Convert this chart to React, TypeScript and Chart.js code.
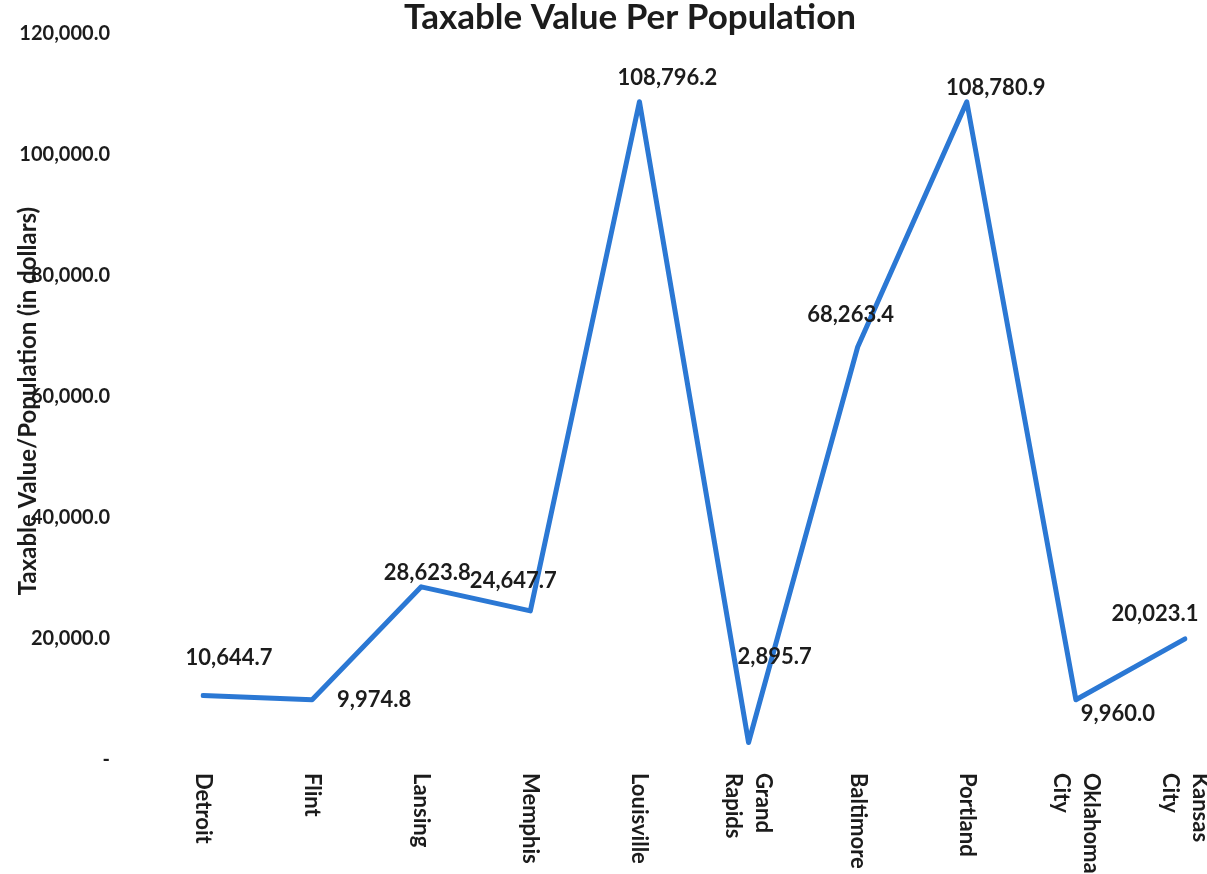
import React, { useEffect, useRef } from "react";
import { Chart, registerables } from "chart.js";

Chart.register(...registerables);

// ---- data ----
const CITIES: string[][] = [
  ["Detroit"],
  ["Flint"],
  ["Lansing"],
  ["Memphis"],
  ["Louisville"],
  ["Grand", "Rapids"],
  ["Baltimore"],
  ["Portland"],
  ["Oklahoma", "City"],
  ["Kansas", "City"],
];
const VALUES: number[] = [
  10644.7, 9974.8, 28623.8, 24647.7, 108796.2, 2895.7, 68263.4, 108780.9, 9960.0, 20023.1,
];
const Y_TICKS: number[] = [0, 20000, 40000, 60000, 80000, 100000, 120000];
const TITLE = "Taxable Value Per Population";
const Y_TITLE = "Taxable Value/Population (in dollars)";

// label placement (pixel offsets of each value label from its point)
const LABEL_OFFSETS: [number, number][] = [
  [26, -38],
  [62, 0],
  [6, -14],
  [-17, -30],
  [28, -24],
  [26, -86],
  [-7, -32],
  [29, -14],
  [42, 14],
  [-30, -25],
];

const FONT = "Lato, 'Liberation Sans', sans-serif";
const TEXT_COLOR = "#1c1c1c";
const LINE_COLOR = "#2b78d4";

const fmt = (v: number) =>
  v === 0
    ? "-"
    : v.toLocaleString("en-US", { minimumFractionDigits: 1, maximumFractionDigits: 1 });

const textPlugin = {
  id: "textPlugin",
  afterDraw(chart: any) {
    const { ctx, chartArea, scales } = chart;
    ctx.save();
    ctx.fillStyle = TEXT_COLOR;

    // title
    ctx.font = `bold 35px ${FONT}`;
    ctx.textAlign = "center";
    ctx.textBaseline = "middle";
    ctx.fillText(TITLE, 630, 18);

    // y-axis title
    ctx.save();
    ctx.translate(28, (chartArea.top + chartArea.bottom) / 2 + 4);
    ctx.rotate(-Math.PI / 2);
    ctx.font = `bold 24px ${FONT}`;
    ctx.textAlign = "center";
    ctx.textBaseline = "middle";
    ctx.fillText(Y_TITLE, 0, 0);
    ctx.restore();

    // x category labels, rotated clockwise
    const xs = scales.x;
    ctx.font = `bold 22px ${FONT}`;
    const lh = 30;
    CITIES.forEach((lines, i) => {
      const x = xs.getPixelForValue(i);
      ctx.save();
      ctx.translate(x, chartArea.bottom + 13);
      ctx.rotate(Math.PI / 2);
      ctx.textAlign = "left";
      ctx.textBaseline = "middle";
      lines.forEach((ln, j) => {
        ctx.fillText(ln, 0, (j - (lines.length - 1) / 2) * lh);
      });
      ctx.restore();
    });

    // value labels
    const meta = chart.getDatasetMeta(0);
    ctx.font = `bold 22px ${FONT}`;
    ctx.textAlign = "center";
    ctx.textBaseline = "middle";
    meta.data.forEach((pt: any, i: number) => {
      const [dx, dy] = LABEL_OFFSETS[i];
      ctx.fillText(fmt(VALUES[i]), pt.x + dx, pt.y + dy);
    });
    ctx.restore();
  },
};

export default function App() {
  const ref = useRef<HTMLCanvasElement | null>(null);

  useEffect(() => {
    if (!ref.current) return;
    const chart = new Chart(ref.current, {
      type: "line",
      data: {
        labels: CITIES.map((c) => c.join(" ")),
        datasets: [
          {
            data: VALUES,
            borderColor: LINE_COLOR,
            borderWidth: 5,
            pointRadius: 0,
            tension: 0,
            borderJoinStyle: "round",
            borderCapStyle: "round",
            fill: false,
          },
        ],
      },
      options: {
        animation: false,
        responsive: true,
        maintainAspectRatio: false,
        layout: { padding: { top: 34, right: 22, left: 0, bottom: 0 } },
        plugins: {
          legend: { display: false },
          title: { display: false },
          tooltip: { enabled: false },
        },
        scales: {
          x: {
            type: "category",
            offset: false,
            ticks: { display: false },
            grid: { display: false, drawTicks: false },
            border: { display: false },
            afterFit: (s: any) => {
              s.height = 114;
            },
          },
          y: {
            min: 0,
            max: 120000,
            afterBuildTicks: (s: any) => {
              s.ticks = Y_TICKS.map((v) => ({ value: v }));
            },
            ticks: {
              padding: 93,
              color: TEXT_COLOR,
              font: { family: FONT, size: 20, weight: "bold" },
              callback: (v: any) => fmt(Number(v)),
            },
            grid: { display: false, drawTicks: false },
            border: { display: false },
            afterFit: (s: any) => {
              s.width = 203;
              s.paddingTop = 10;
              s.paddingBottom = 10;
            },
          },
        },
      },
      plugins: [textPlugin],
    } as any);
    return () => chart.destroy();
  }, []);

  return (
    <div style={{ position: "fixed", left: 0, top: 0, width: 1207, height: 874, background: "#fff" }}>
      <canvas ref={ref} />
    </div>
  );
}
